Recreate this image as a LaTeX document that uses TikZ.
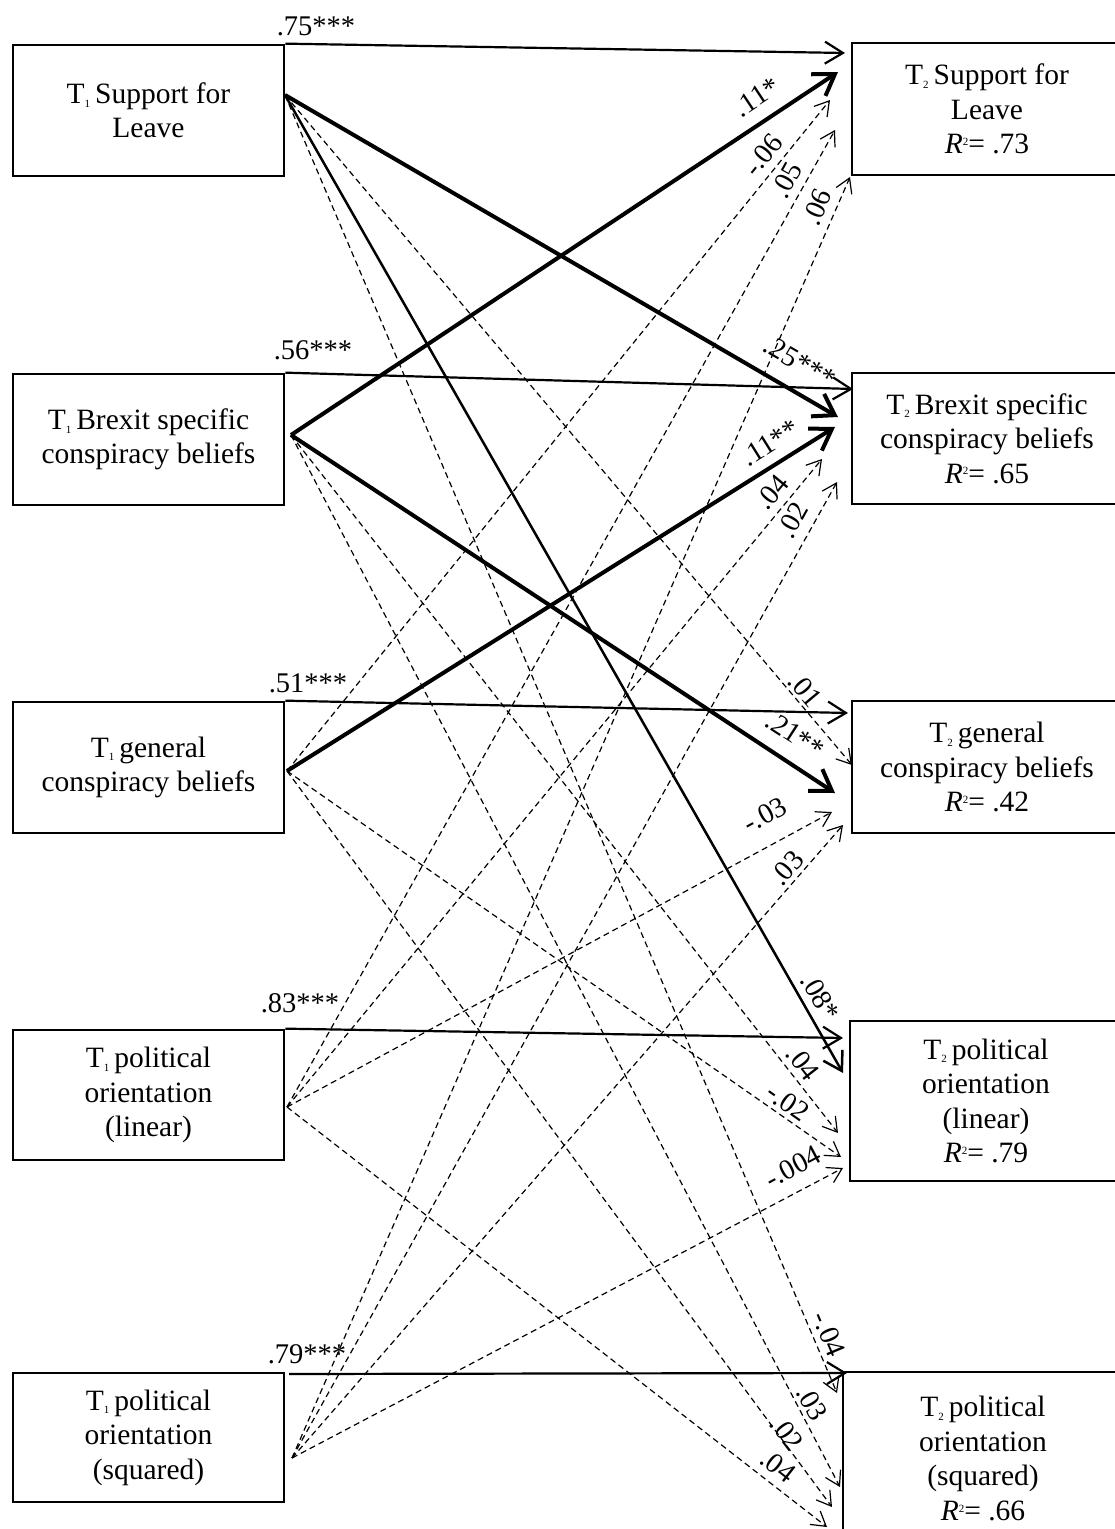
\documentclass[tikz,border=0pt]{standalone}
\usepackage{fontspec}
\setmainfont{Liberation Serif}
\usetikzlibrary{arrows.meta}
\newcommand{\sbs}[1]{\raisebox{-0.12em}{\fontsize{11}{11}\selectfont #1}}
\newcommand{\rsq}{\textit{R}\raisebox{0.28em}{\fontsize{11}{11}\selectfont 2}= }
\begin{document}
\begin{tikzpicture}[x=1pt,y=-1pt,
 box/.style={draw, line width=2.7pt, align=center, font=\fontsize{29.5}{34.5}\selectfont, inner sep=0pt},
 arrow ar/.style={line width=2.2pt, -{Straight Barb[length=18pt,width=22pt]}},
 arrow bold/.style={line width=4pt, -{Straight Barb[length=20pt,width=26pt]}},
 arrow mid/.style={line width=2.5pt, -{Straight Barb[length=18pt,width=22pt]}},
 arrow dsh/.style={line width=1.2pt, dash pattern=on 6pt off 4pt, -{Straight Barb[length=14pt,width=17pt]}},
 lbl/.style={font=\fontsize{28.5}{28.5}\selectfont, inner sep=0pt}]
\useasboundingbox (0,0) rectangle (1115,1529);
\clip (0,0) rectangle (1115,1529);
\fill[white] (0,0) rectangle (1115,1529);

% left boxes
\node[box, minimum width=271pt, minimum height=131pt] (L1) at (148.5,110.5) {T\sbs{1}\,Support for\\Leave};
\node[box, minimum width=271pt, minimum height=131pt] (L2) at (148.5,439.5) {T\sbs{1}\,Brexit specific\\conspiracy beliefs};
\node[box, minimum width=271pt, minimum height=131pt] (L3) at (148.5,767.5) {T\sbs{1}\,general\\conspiracy beliefs};
\node[box, minimum width=271pt, minimum height=130pt] (L4) at (148.5,1095) {T\sbs{1}\,political\\orientation\\(linear)};
\node[box, minimum width=271pt, minimum height=129pt] (L5) at (148.5,1437.5) {T\sbs{1}\,political\\orientation\\(squared)};

% right boxes
\node[box, minimum width=270pt, minimum height=132pt] (R1) at (987,109) {T\sbs{2}\,Support for\\Leave\\\rsq.73};
\node[box, minimum width=270pt, minimum height=131pt] (R2) at (987,438.5) {T\sbs{2}\,Brexit specific\\conspiracy beliefs\\\rsq.65};
\node[box, minimum width=270pt, minimum height=132pt] (R3) at (987,767) {T\sbs{2}\,general\\conspiracy beliefs\\\rsq.42};
\node[box, minimum width=272pt, minimum height=160pt] (R4) at (986,1101) {T\sbs{2}\,political\\orientation\\(linear)\\\rsq.79};
\node[box, minimum width=280pt, minimum height=173pt] (R5) at (983,1458.5) {T\sbs{2}\,political\\orientation\\(squared)\\\rsq.66};

% sources of cross-lagged paths
\coordinate (s1) at (285,95);
\coordinate (s2) at (291,435);
\coordinate (s3) at (287,771);
\coordinate (s4) at (287,1107);
\coordinate (s5) at (292,1458);
\coordinate (u5) at (289,1374);

% autoregressive tips
\coordinate (a1) at (845,53);
\coordinate (a2) at (853,389);
\coordinate (a3) at (848,713);
\coordinate (a4) at (843,1038);
\coordinate (a5) at (847,1373);

% cross-lagged tips
\coordinate (t21) at (838,72);
\coordinate (t31) at (830,100);
\coordinate (t41) at (835,130);
\coordinate (t51) at (850,177);
\coordinate (t12) at (838,417);
\coordinate (t32) at (835,427);
\coordinate (t42) at (822,459);
\coordinate (t52) at (837,482);
\coordinate (t13) at (852,765);
\coordinate (t23) at (835,793);
\coordinate (t43) at (832,812);
\coordinate (t53) at (843,825);
\coordinate (t14) at (843,1073);
\coordinate (t24) at (838,1133);
\coordinate (t34) at (841,1157);
\coordinate (t54) at (843,1168);
\coordinate (t15) at (837,1393);
\coordinate (t25) at (840,1487);
\coordinate (t35) at (832,1507);
\coordinate (t45) at (827,1527);

% dashed paths
\draw[arrow dsh] (s3) -- (t31);
\draw[arrow dsh] (s4) -- (t41);
\draw[arrow dsh] (s5) -- (t51);
\draw[arrow dsh] (s4) -- (t42);
\draw[arrow dsh] (s5) -- (t52);
\draw[arrow dsh] (s1) -- (t13);
\draw[arrow dsh] (s4) -- (t43);
\draw[arrow dsh] (s5) -- (t53);
\draw[arrow dsh] (s2) -- (t24);
\draw[arrow dsh] (s3) -- (t34);
\draw[arrow dsh] (s5) -- (t54);
\draw[arrow dsh] (s1) -- (t15);
\draw[arrow dsh] (s2) -- (t25);
\draw[arrow dsh] (s3) -- (t35);
\draw[arrow dsh] (s4) -- (t45);

% autoregressive paths
\draw[arrow ar] (L1.north east) -- (a1);
\draw[arrow ar] (L2.north east) -- (a2);
\draw[arrow ar] (L3.north east) -- (a3);
\draw[arrow ar] (L4.north east) -- (a4);
\draw[arrow ar] (u5) -- (a5);

% solid cross-lagged paths
\draw[arrow mid] (s1) -- (t14);
\draw[arrow bold] (s2) -- (t21);
\draw[arrow bold] (s1) -- (t12);
\draw[arrow bold] (s3) -- (t32);
\draw[arrow bold] (s2) -- (t23);

% labels
\node[lbl] (n11) at (316,26) {.75***};
\node[lbl] (n22) at (313,350) {.56***};
\node[lbl] (n33) at (308,683) {.51***};
\node[lbl] (n44) at (300,1003) {.83***};
\node[lbl] (n55) at (307,1354) {.79***};

\node[lbl, rotate=33.5] (n21) at (757,97) {.11*};
\node[lbl, rotate=51] (n31) at (763,155) {-.06};
\node[lbl, rotate=61] (n41) at (787,180) {.05};
\node[lbl, rotate=66] (n51) at (817,207) {.06};
\node[lbl, rotate=-30] (n12) at (800,362) {.25***};
\node[lbl, rotate=32] (n32) at (770,443) {.11**};
\node[lbl, rotate=50.5] (n42) at (772,492) {.04};
\node[lbl, rotate=61] (n52) at (793,520) {.02};
\node[lbl, rotate=-50] (n13) at (805,690) {.01};
\node[lbl, rotate=-33] (n23) at (795,735) {.21**};
\node[lbl, rotate=28.5] (n43) at (765,815) {-.03};
\node[lbl, rotate=49] (n53) at (787,868) {.03};
\node[lbl, rotate=-60] (n14) at (820,997) {.08*};
\node[lbl, rotate=-52] (n24) at (803,1063) {.04};
\node[lbl, rotate=-35] (n34) at (788,1102) {-.02};
\node[lbl, rotate=28] (n54) at (793,1167) {-.004};
\node[lbl, rotate=-67] (n15) at (829,1334) {-.04};
\node[lbl, rotate=-60] (n25) at (812,1403) {.03};
\node[lbl, rotate=-53] (n35) at (787,1433) {.02};
\node[lbl, rotate=-38] (n45) at (778,1466) {.04};
\end{tikzpicture}
\end{document}
